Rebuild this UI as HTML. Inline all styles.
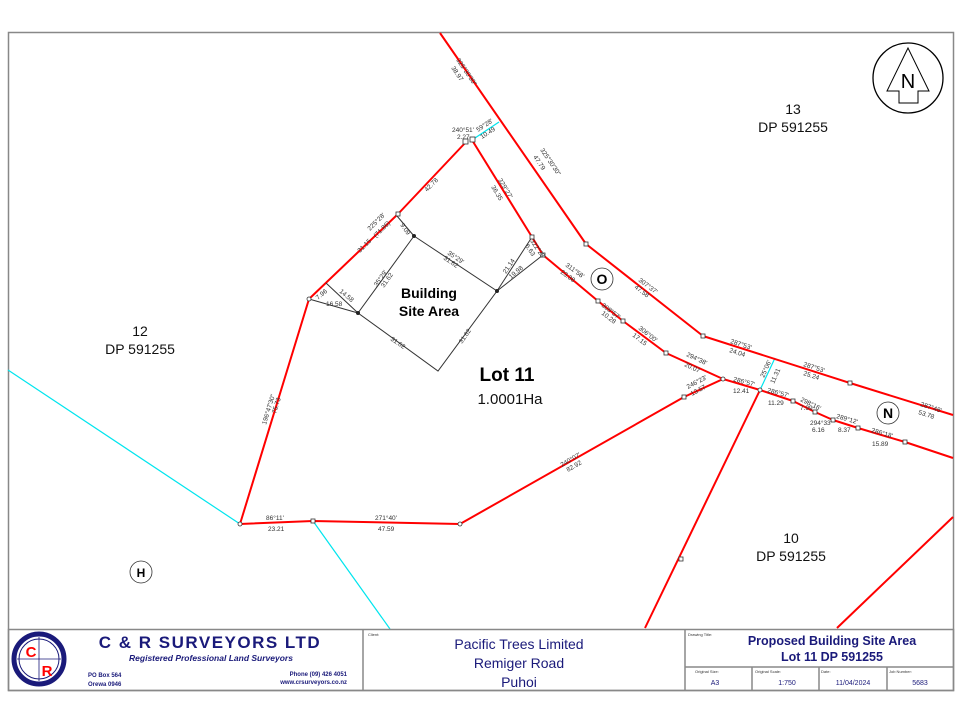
<!DOCTYPE html>
<html><head><meta charset="utf-8"><style>
html,body{margin:0;padding:0;background:#fff;width:960px;height:720px;overflow:hidden}
svg{display:block}
text{font-family:"Liberation Sans",Arial,sans-serif}
.s{font-size:6.5px;fill:#333}
</style></head><body>
<svg width="960" height="720" viewBox="0 0 960 720" xmlns="http://www.w3.org/2000/svg">
<rect x="8.5" y="32.5" width="945" height="658" fill="#fff" stroke="#888" stroke-width="1.5"/>
<!-- cyan lines -->
<g stroke="#00e5ee" stroke-width="1.2" fill="none">
<line x1="8" y1="370" x2="240" y2="524"/>
<line x1="313" y1="521" x2="390" y2="629"/>
<line x1="472" y1="140" x2="499" y2="122"/>
<line x1="760" y1="390" x2="775" y2="358"/>
</g>
<!-- red lines -->
<g stroke="#f00" stroke-width="2" fill="none" stroke-linejoin="round">
<polyline points="440,33 586,244 703,336 850,383 953,415"/>
<polyline points="472,140 532,237 543,255 598,301 623,321 666,353 723,379 760,390 793,401 815,412 833,420 858,428 905,442 953,458"/>
<polyline points="466,142 398,214 309,299 240,524 313,521 460,524 684,397 723,379"/>
<line x1="760" y1="390" x2="645" y2="628"/>
<line x1="953" y1="517" x2="837" y2="628"/>
</g>
<!-- building site -->
<g stroke="#333" stroke-width="1" fill="none">
<polygon points="414,236 497,291 438,371 358,313"/>
<line x1="397" y1="216" x2="414" y2="236"/>
<line x1="326" y1="283" x2="358" y2="313"/>
<line x1="309" y1="299" x2="358" y2="313"/>
<line x1="532" y1="237" x2="497" y2="291"/>
<line x1="543" y1="255" x2="497" y2="291"/>
</g>
<g fill="#222">
<circle cx="414" cy="236" r="2"/><circle cx="358" cy="313" r="2"/><circle cx="497" cy="291" r="2"/>
</g>
<!-- markers -->
<g fill="#fff" stroke="#333" stroke-width="0.8">
<rect x="463" y="139" width="5" height="5"/><rect x="470" y="137" width="5" height="5"/>
<rect x="584" y="242" width="4" height="4"/><rect x="701" y="334" width="4" height="4"/><rect x="848" y="381" width="4" height="4"/>
<rect x="530" y="235" width="4" height="4"/><rect x="541" y="253" width="4" height="4"/>
<rect x="596" y="299" width="4" height="4"/><rect x="621" y="319" width="4" height="4"/><rect x="664" y="351" width="4" height="4"/>
<rect x="791" y="399" width="4" height="4"/><rect x="813" y="410" width="4" height="4"/><rect x="831" y="418" width="4" height="4"/><rect x="856" y="426" width="4" height="4"/><rect x="903" y="440" width="4" height="4"/>
<rect x="682" y="395" width="4" height="4"/><rect x="311" y="519" width="4" height="4"/><rect x="679" y="557" width="4" height="4"/>
<rect x="396" y="212" width="4" height="4"/>
<circle cx="723" cy="379" r="2"/><circle cx="760" cy="390" r="2"/><circle cx="309" cy="299" r="2"/><circle cx="240" cy="524" r="2"/><circle cx="460" cy="524" r="2"/>
</g>
<!-- circle labels -->
<g fill="#fff" stroke="#333" stroke-width="0.8">
<circle cx="602" cy="279" r="11"/><circle cx="888" cy="413" r="11"/><circle cx="141" cy="572" r="11"/>
</g>
<g font-weight="bold" font-size="14" text-anchor="middle" fill="#000">
<text x="602" y="284">O</text><text x="888" y="418">N</text><text x="141" y="577" font-size="12">H</text>
</g>
<!-- north arrow -->
<circle cx="908" cy="78" r="35" fill="#fff" stroke="#000" stroke-width="1.3"/>
<polygon points="908,48 887,91 899,91 899,103 918,103 918,91 929,91" fill="none" stroke="#000" stroke-width="1"/>
<text x="908" y="88" font-size="20" text-anchor="middle" fill="#000">N</text>
<!-- parcel labels -->
<g font-size="14" text-anchor="middle" fill="#111">
<text x="793" y="114">13</text><text x="793" y="132">DP 591255</text>
<text x="140" y="336">12</text><text x="140" y="354">DP 591255</text>
<text x="791" y="543">10</text><text x="791" y="561">DP 591255</text>
<text x="510" y="404" font-size="15">1.0001Ha</text>
</g>
<text x="507" y="381" font-size="19" font-weight="bold" text-anchor="middle">Lot 11</text>
<text x="429" y="298" font-size="14" font-weight="bold" text-anchor="middle">Building</text>
<text x="429" y="316" font-size="14" font-weight="bold" text-anchor="middle">Site Area</text>
<!-- small dims -->
<g class="s">
<text transform="translate(456,60) rotate(56)" >325°30'30"</text>
<text transform="translate(451,68) rotate(56)">38.97</text>
<text transform="translate(540,150) rotate(56)">325°30'30"</text>
<text transform="translate(533,157) rotate(56)">47.79</text>
<text transform="translate(498,180) rotate(59)">329°27'</text>
<text transform="translate(491,187) rotate(59)">36.35</text>
<text x="452" y="132">240°51'</text><text x="457" y="139">2.27</text>
<text transform="translate(478,132) rotate(-33)">59°28'</text>
<text transform="translate(482,139) rotate(-33)">10.49</text>
<text transform="translate(427,192) rotate(-45)">42.78</text>
<text transform="translate(370,231) rotate(-45)">225°28'</text>
<text transform="translate(376,238) rotate(-45)">(71.86)</text>
<text transform="translate(360,253) rotate(-45)">31.15</text>
<text transform="translate(400,225) rotate(55)">9.09</text>
<text transform="translate(447,254) rotate(34)">35°29'</text>
<text transform="translate(443,259) rotate(34)">31.62</text>
<text transform="translate(377,287) rotate(-55)">35°29'</text>
<text transform="translate(384,288) rotate(-55)">31.62</text>
<text transform="translate(390,340) rotate(34)">31.62</text>
<text transform="translate(462,344) rotate(-55)">31.62</text>
<text transform="translate(318,300) rotate(-40)">7.96</text>
<text transform="translate(339,292) rotate(40)">14.58</text>
<text x="326" y="306">16.58</text>
<text transform="translate(506,274) rotate(-56)">21.14</text>
<text transform="translate(511,279) rotate(-40)">19.98</text>
<text transform="translate(530,241) rotate(56)">322°28'</text>
<text transform="translate(525,246) rotate(56)">6.63</text>
<text transform="translate(565,266) rotate(36)">311°58'</text>
<text transform="translate(560,273) rotate(36)">23.38</text>
<text transform="translate(638,281) rotate(37)">307°37'</text>
<text transform="translate(634,288) rotate(37)">47.58</text>
<text transform="translate(601,306) rotate(38)">308°57'</text>
<text transform="translate(601,314) rotate(38)">10.28</text>
<text transform="translate(638,329) rotate(38)">306°00'</text>
<text transform="translate(632,336) rotate(38)">17.15</text>
<text transform="translate(686,356) rotate(25)">294°38'</text>
<text transform="translate(684,366) rotate(25)">20.07</text>
<text transform="translate(730,343) rotate(18)">287°53'</text>
<text transform="translate(729,352) rotate(18)">24.04</text>
<text transform="translate(803,366) rotate(18)">287°53'</text>
<text transform="translate(803,375) rotate(18)">25.24</text>
<text transform="translate(920,406) rotate(18)">287°48'</text>
<text transform="translate(918,414) rotate(18)">53.78</text>
<text transform="translate(764,378) rotate(-66)">25°06'</text>
<text transform="translate(774,384) rotate(-66)">11.31</text>
<text transform="translate(733,381) rotate(15)">286°57'</text>
<text x="733" y="393">12.41</text>
<text transform="translate(767,392) rotate(15)">286°57'</text>
<text x="768" y="405">11.29</text>
<text transform="translate(800,401) rotate(26)">298°16'</text>
<text x="800" y="410">7.99</text>
<text x="810" y="425">294°33'</text><text x="812" y="432">6.16</text>
<text transform="translate(836,418) rotate(16)">289°12'</text>
<text x="838" y="432">8.37</text>
<text transform="translate(871,432) rotate(16)">286°18'</text>
<text x="872" y="446">15.89</text>
<text transform="translate(688,389) rotate(-28)">246°23'</text>
<text transform="translate(692,396) rotate(-28)">13.57</text>
<text transform="translate(562,467) rotate(-30)">240°07'</text>
<text transform="translate(568,472) rotate(-30)">82.92</text>
<text transform="translate(266,425) rotate(-73)">196°47'30"</text>
<text transform="translate(276,414) rotate(-73)">75.73</text>
<text x="266" y="520">86°11'</text><text x="268" y="531">23.21</text>
<text x="375" y="520">271°40'</text><text x="378" y="531">47.59</text>
</g>
<!-- title block -->
<g stroke="#888" stroke-width="1.5" fill="none">
<rect x="8.5" y="629.5" width="945" height="61"/>
<line x1="363" y1="629" x2="363" y2="691"/>
<line x1="685" y1="629" x2="685" y2="691"/>
<line x1="685" y1="667" x2="954" y2="667"/>
<line x1="752" y1="667" x2="752" y2="691"/>
<line x1="819" y1="667" x2="819" y2="691"/>
<line x1="887" y1="667" x2="887" y2="691"/>
</g>
<!-- logo -->
<circle cx="39" cy="659" r="25" fill="none" stroke="#1a1a7a" stroke-width="5"/>
<circle cx="39" cy="659" r="20" fill="none" stroke="#1a1a7a" stroke-width="1"/>
<line x1="17" y1="659" x2="61" y2="659" stroke="#1a1a7a" stroke-width="0.8"/>
<line x1="39" y1="637" x2="39" y2="681" stroke="#1a1a7a" stroke-width="0.8"/>
<text x="31" y="657" font-size="15" font-weight="bold" fill="#f00" text-anchor="middle">C</text>
<text x="47" y="676" font-size="15" font-weight="bold" fill="#f00" text-anchor="middle">R</text>
<text x="210" y="648" font-size="17" font-weight="bold" fill="#1a1a7a" text-anchor="middle" letter-spacing="1.5">C &amp; R SURVEYORS LTD</text>
<text x="211" y="661" font-size="8.5" font-weight="bold" font-style="italic" fill="#1a1a7a" text-anchor="middle">Registered Professional Land Surveyors</text>
<text x="88" y="677" font-size="6" font-weight="bold" fill="#1a1a7a">PO Box 564</text>
<text x="88" y="686" font-size="6" font-weight="bold" fill="#1a1a7a">Orewa 0946</text>
<text x="347" y="676" font-size="6" font-weight="bold" fill="#1a1a7a" text-anchor="end">Phone (09) 426 4051</text>
<text x="347" y="684" font-size="6" font-weight="bold" fill="#1a1a7a" text-anchor="end">www.crsurveyors.co.nz</text>
<text x="368" y="636" font-size="4" fill="#333">Client:</text>
<g font-size="14" fill="#1a1a7a" text-anchor="middle">
<text x="519" y="649">Pacific Trees Limited</text>
<text x="519" y="668">Remiger Road</text>
<text x="519" y="687">Puhoi</text>
</g>
<text x="688" y="636" font-size="4" fill="#333">Drawing Title:</text>
<text x="832" y="645" font-size="12.5" font-weight="bold" fill="#1a1a7a" text-anchor="middle">Proposed Building Site Area</text>
<text x="832" y="661" font-size="12.5" font-weight="bold" fill="#1a1a7a" text-anchor="middle">Lot 11 DP 591255</text>
<g font-size="4" fill="#333">
<text x="695" y="673">Original Size:</text><text x="755" y="673">Original Scale:</text><text x="821" y="673">Date:</text><text x="889" y="673">Job Number:</text>
</g>
<g font-size="7" fill="#1a1a7a" text-anchor="middle">
<text x="715" y="685">A3</text><text x="787" y="685">1:750</text><text x="853" y="685">11/04/2024</text><text x="920" y="685">5683</text>
</g>
</svg>
</body></html>
